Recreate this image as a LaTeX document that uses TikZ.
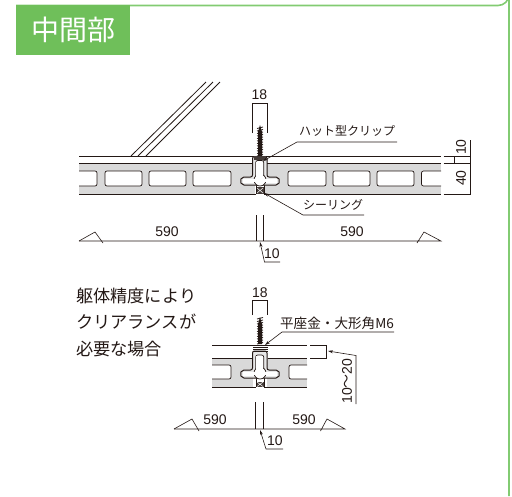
\documentclass[tikz,border=0pt]{standalone}
\usepackage{fontspec}
\setmainfont{Liberation Sans}
\newfontfamily\jpfont{Noto Sans CJK JP}
\usetikzlibrary{arrows.meta}
\definecolor{tabgreen}{HTML}{6FBF5A}
\definecolor{framegreen}{HTML}{82CB72}
\definecolor{slabgray}{HTML}{D9D9D9}
\definecolor{inkblack}{HTML}{231815}
\tikzset{
  dimline/.style={draw=inkblack,line width=0.6pt},
  leaderline/.style={draw=inkblack,line width=0.6pt,-{Stealth[length=5pt,width=3pt]}},
  edgeline/.style={draw=inkblack,line width=0.8pt},
  holebox/.style={draw=inkblack,line width=0.7pt,fill=white,rounded corners=2pt},
  clipshape/.style={draw=inkblack,line width=1pt,rounded corners=2pt},
  numtext/.style={inner sep=0pt,text=inkblack,font=\fontsize{14}{14}\selectfont},
  jptext/.style={inner sep=0pt,text=inkblack,font=\jpfont\fontsize{12}{12}\selectfont},
  washertext/.style={inner sep=0pt,text=inkblack,font=\jpfont\fontsize{13.6}{13.6}\selectfont},
  bodytext/.style={inner sep=0pt,text=inkblack,anchor=west,font=\jpfont\fontsize{17.2}{17.2}\selectfont}
}
% tip y, base y, length
\newcommand{\screwbody}[3]{
  \fill[inkblack] (258,#2) -- (258,#1+7) -- (260,#1) -- (262,#1+7) -- (262,#2) -- cycle;
  \begin{scope}[shift={(0,#2)}]
    \foreach \yy in {0,-2.5,...,-#3}
      \draw[inkblack,line width=0.8pt] (257,\yy) -- (263,\yy-1.5);
  \end{scope}
}
% channel top y, flange top y
\newcommand{\clipbody}[2]{
  \draw[clipshape,fill=slabgray!60] (252.5,#1) -- (267,#1) -- (267,#2) -- (278,#2) -- (280,#2+4) -- (278,#2+8) -- (242,#2+8) -- (240,#2+4) -- (242,#2) -- (252.5,#2) -- cycle;
  \fill[white] (243,#2+2) rectangle (277,#2+6);
  \draw[inkblack,line width=0.7pt,fill=white,rounded corners=2pt] (255.7,#2) -- (255.7,#1+4) -- (263.7,#1+4) -- (263.7,#2);
  \fill[white] (256,#1+5) rectangle (263.4,#2+3);
  \draw[inkblack,line width=0.7pt,fill=white] (260,#2+3) circle (6pt);
  \fill[white] (256.1,#1+5) rectangle (263.3,#2+1);
  \fill[white] (250,#2+2) rectangle (270,#2+5);
}
\begin{document}
\begin{tikzpicture}[x=1pt,y=-1pt]
    \useasboundingbox (0,0) rectangle (512,496);
    % frame and title
    \draw[framegreen,line width=1.6pt] (16,5.5) -- (498,5.5) arc[start angle=90,end angle=0,radius=11] -- (509,496);
    \node[fill=tabgreen,minimum width=114pt,minimum height=50pt,inner sep=0pt,anchor=north west] (titletab) at (16,5) {};
    \node[text=white,font=\jpfont\fontsize{28}{28}\selectfont,inner sep=0pt] (titletext) at (73,30) {中間部};

    % upper section
    \fill[slabgray] (79,163.5) rectangle (255,194);
    \fill[slabgray] (264,163.5) rectangle (441,194);
    \draw[edgeline] (79,156) -- (441,156);
    \draw[edgeline] (79,163.5) -- (252,163.5) (267,163.5) -- (441,163.5);
    \draw[edgeline] (79,194) -- (256,194) (264,194) -- (441,194);
    \draw[holebox] (79,171) -- (97,171) -- (97,186) -- (79,186);
    \draw[holebox] (441,171) -- (421.5,171) -- (421.5,186) -- (441,186);
    \foreach \xa/\xb in {105/142,149/186,193/231,288/326,333/370,377/414}
      \draw[holebox] (\xa,171) rectangle (\xb,186);
    \foreach \xa/\xb in {131/206,138/213,146/220}
      \draw[edgeline] (\xa,156) -- (\xb,82);

    % upper clip
    \draw[edgeline] (256,185) -- (256,194) (264,185) -- (264,194);
    \clipbody{156.5}{177}
    \fill[inkblack!85] (254,156) rectangle (266,160);
    \fill[inkblack!85] (256.5,187) rectangle (263.5,194);
    \draw[white,line width=0.5pt] (257,188) -- (263,193) (263,188) -- (257,193);
    \screwbody{125}{156}{27.5}

    % upper dimensions
    \coordinate (dimupa) at (252.5,103);
    \coordinate (dimupb) at (267,103);
    \draw[dimline] (252.5,133) -- (dimupa) -- (dimupb) -- (267,133);
    \node[numtext] (dimupl) at (259.5,95) {18};
    \draw[dimline] (79,241) -- (95,232) -- (103,243);
    \draw[dimline] (79,241) -- (441,241) -- (424,232) -- (417,243);
    \draw[dimline] (256,215) -- (256,241) (263.5,215) -- (263.5,241);
    \node[numtext] (spanua) at (167,232) {590};
    \node[numtext] (spanub) at (352,232) {590};
    \node[numtext] (gapu) at (272,254) {10};
    \coordinate (gapua) at (260,242);
    \draw[leaderline] (280,262) -- (264.5,262) -- (gapua);
    \foreach \yy in {156,163.5,194}
      \draw[dimline] (443.5,\yy) -- (471,\yy);
    \draw[dimline] (454,156) -- (454,163.5);
    \draw[dimline] (470,140) -- (470,194);
    \node[numtext,rotate=90] (sideua) at (461,147) {10};
    \node[numtext,rotate=90] (sideub) at (461,178) {40};

    % upper labels
    \node[jptext] (cliplabel) at (347,131) {ハット型クリップ};
    \coordinate (clipa) at (297,142);
    \coordinate (clipb) at (263,161);
    \draw[leaderline] (397,142) -- (clipa) -- (clipb);
    \node[jptext] (seallabel) at (333,205) {シーリング};
    \coordinate (seala) at (303,215);
    \coordinate (sealb) at (264,193);
    \draw[leaderline] (364,215) -- (seala) -- (sealb);

    % note
    \node[bodytext] (notea) at (76,296) {躯体精度により};
    \node[bodytext] (noteb) at (76,322) {クリアランスが};
    \node[bodytext] (notec) at (76,349) {必要な場合};

    % lower section
    \fill[slabgray] (212,358) rectangle (253,387);
    \fill[slabgray] (267,358) rectangle (307,387);
    \draw[edgeline] (212,345) -- (253,345) (268,345) -- (307,345);
    \draw[edgeline] (212,358) -- (253,358) (268,358) -- (307,358);
    \draw[edgeline] (212,387) -- (256,387) (264,387) -- (307,387);
    \draw[holebox] (212,365) -- (231,365) -- (231,379) -- (212,379);
    \draw[holebox] (307,365) -- (289,365) -- (289,379) -- (307,379);

    % lower clip
    \draw[edgeline] (256,378) -- (256,387) (264,378) -- (264,387);
    \clipbody{351}{370}
    \fill[inkblack!85] (256.5,381.5) rectangle (263.5,387);
    \draw[white,line width=0.5pt] (257,382) -- (263,386.5) (263,382) -- (257,386.5);
    \screwbody{317}{344}{25}
    \foreach \yy in {345,347,349,351}
      \draw[inkblack,line width=0.9pt] (253,\yy) -- (268,\yy);

    % lower dimensions
    \coordinate (dimloa) at (252.5,300);
    \coordinate (dimlob) at (267,300);
    \draw[dimline] (252.5,315) -- (dimloa) -- (dimlob) -- (267,315);
    \node[numtext] (dimlol) at (260,293) {18};
    \draw[dimline] (174,429) -- (192,419) -- (199,431);
    \draw[dimline] (174,429) -- (345,429) -- (327,419) -- (320.5,431);
    \draw[dimline] (255.5,402) -- (255.5,429) (263.5,402) -- (263.5,429);
    \node[numtext] (spanla) at (215,420) {590};
    \node[numtext] (spanlb) at (304,420) {590};
    \node[numtext] (gapl) at (275,441) {10};
    \coordinate (gapla) at (260,430);
    \draw[leaderline] (283,449) -- (266,449) -- (gapla);
    \draw[dimline] (310,345) -- (326.5,345) -- (326.5,358) -- (310,358);
    \coordinate (rangea) at (328,351);
    \draw[leaderline] (356,404) -- (356,355.5) -- (rangea);
    \node[numtext,rotate=90] (rangel) at (347,381) {10{\jpfont〜}20};

    % lower label
    \node[washertext] (washerlabel) at (337,323) {平座金・大形角M6};
    \coordinate (washera) at (282,332);
    \coordinate (washerb) at (265,345);
    \draw[leaderline] (394,332) -- (washera) -- (washerb);
  \end{tikzpicture}
\end{document}
